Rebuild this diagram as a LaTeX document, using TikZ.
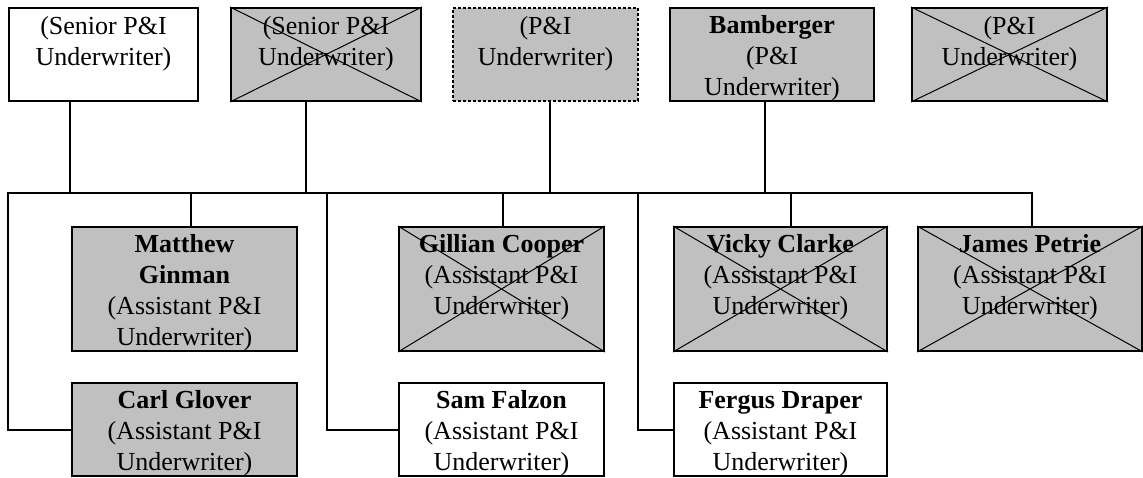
\documentclass[tikz,border=0pt]{standalone}
\usepackage{fontspec}
\setmainfont{Liberation Serif}
\definecolor{boxgray}{HTML}{C0C0C0}
\newcommand{\fl}{\rule{0pt}{20pt}}
\begin{document}
\begin{tikzpicture}[x=1pt,y=-1pt,
  box/.style={draw, line width=2pt, inner sep=0pt, anchor=north west, rectangle},
  grey/.style={fill=boxgray},
  dashedbox/.style={dash pattern=on 3pt off 2pt},
  txt/.style={anchor=north, inner sep=0pt, align=center, font=\fontsize{26}{30.8}\selectfont},
  conn/.style={line width=2pt, line join=miter},
  crossline/.style={line width=1pt}]
\useasboundingbox (0,0) rectangle (1143,477);

% top row
\node[box, minimum width=189pt, minimum height=93pt] (b1) at (8,7) {};
\node[box, grey, minimum width=190pt, minimum height=93pt] (b2) at (230,7) {};
\node[box, grey, dashedbox, minimum width=185pt, minimum height=93pt] (b3) at (452,7) {};
\node[box, grey, minimum width=204pt, minimum height=93pt] (b4) at (669,7) {};
\node[box, grey, minimum width=195pt, minimum height=93pt] (b5) at (911,7) {};
% second row
\node[box, grey, minimum width=225pt, minimum height=124pt] (m) at (71,226) {};
\node[box, grey, minimum width=205pt, minimum height=124pt] (g) at (398,226) {};
\node[box, grey, minimum width=213pt, minimum height=124pt] (v) at (673,226) {};
\node[box, grey, minimum width=224pt, minimum height=124pt] (j) at (917,226) {};
% third row
\node[box, grey, minimum width=225pt, minimum height=93pt] (c) at (71,382) {};
\node[box, minimum width=205pt, minimum height=93pt] (s) at (398,382) {};
\node[box, minimum width=213pt, minimum height=93pt] (f) at (673,382) {};

% crosses
\foreach \b in {b2,b5,g,v,j}{
  \draw[crossline] (\b.north west) -- (\b.south east) (\b.south west) -- (\b.north east);
}

% texts
\node[txt] (b1t) at ([yshift=-7.5pt]b1.north) {\fl(Senior P\&I\\Underwriter)};
\node[txt] (b2t) at ([yshift=-7.5pt]b2.north) {\fl(Senior P\&I\\Underwriter)};
\node[txt] (b3t) at ([yshift=-7.5pt]b3.north) {\fl(P\&I\\Underwriter)};
\node[txt] (b4t) at ([yshift=-6.5pt]b4.north) {\fl\textbf{Bamberger}\\(P\&I\\Underwriter)};
\node[txt] (b5t) at ([yshift=-7.5pt]b5.north) {\fl(P\&I\\Underwriter)};
\node[txt] (mt) at ([yshift=-6.5pt]m.north) {\fl\textbf{Matthew}\\\textbf{Ginman}\\(Assistant P\&I\\Underwriter)};
\node[txt] (gt) at ([yshift=-6.5pt]g.north) {\fl\textbf{Gillian Cooper}\\(Assistant P\&I\\Underwriter)};
\node[txt] (vt) at ([yshift=-6.5pt]v.north) {\fl\textbf{Vicky Clarke}\\(Assistant P\&I\\Underwriter)};
\node[txt] (jt) at ([yshift=-6.5pt]j.north) {\fl\textbf{James Petrie}\\(Assistant P\&I\\Underwriter)};
\node[txt] (ct) at ([yshift=-6.5pt]c.north) {\fl\textbf{Carl Glover}\\(Assistant P\&I\\Underwriter)};
\node[txt] (st) at ([yshift=-6.5pt]s.north) {\fl\textbf{Sam Falzon}\\(Assistant P\&I\\Underwriter)};
\node[txt] (ft) at ([yshift=-6.5pt]f.north) {\fl\textbf{Fergus Draper}\\(Assistant P\&I\\Underwriter)};

% bus junctions
\coordinate (busL) at (8,193);
\coordinate (busR) at (1032,193);
\coordinate (u1) at (70,193);
\coordinate (u2) at (306,193);
\coordinate (u3) at (550,193);
\coordinate (u4) at (765,193);
\coordinate (d2) at (191,193);
\coordinate (d3) at (327,193);
\coordinate (d4) at (503,193);
\coordinate (d5) at (638,193);
\coordinate (d6) at (791,193);

% connectors
\draw[conn] (c.west) -- (busL |- c.west) -- (busL) -- (busR) -- (busR |- j.north);
\draw[conn] (b1.south -| u1) -- (u1);
\draw[conn] (b2.south -| u2) -- (u2);
\draw[conn] (b3.south -| u3) -- (u3);
\draw[conn] (b4.south -| u4) -- (u4);
\draw[conn] (d2) -- (d2 |- m.north);
\draw[conn] (d3) -- (d3 |- s.west) -- (s.west);
\draw[conn] (d4) -- (d4 |- g.north);
\draw[conn] (d5) -- (d5 |- f.west) -- (f.west);
\draw[conn] (d6) -- (d6 |- v.north);
\end{tikzpicture}
\end{document}
